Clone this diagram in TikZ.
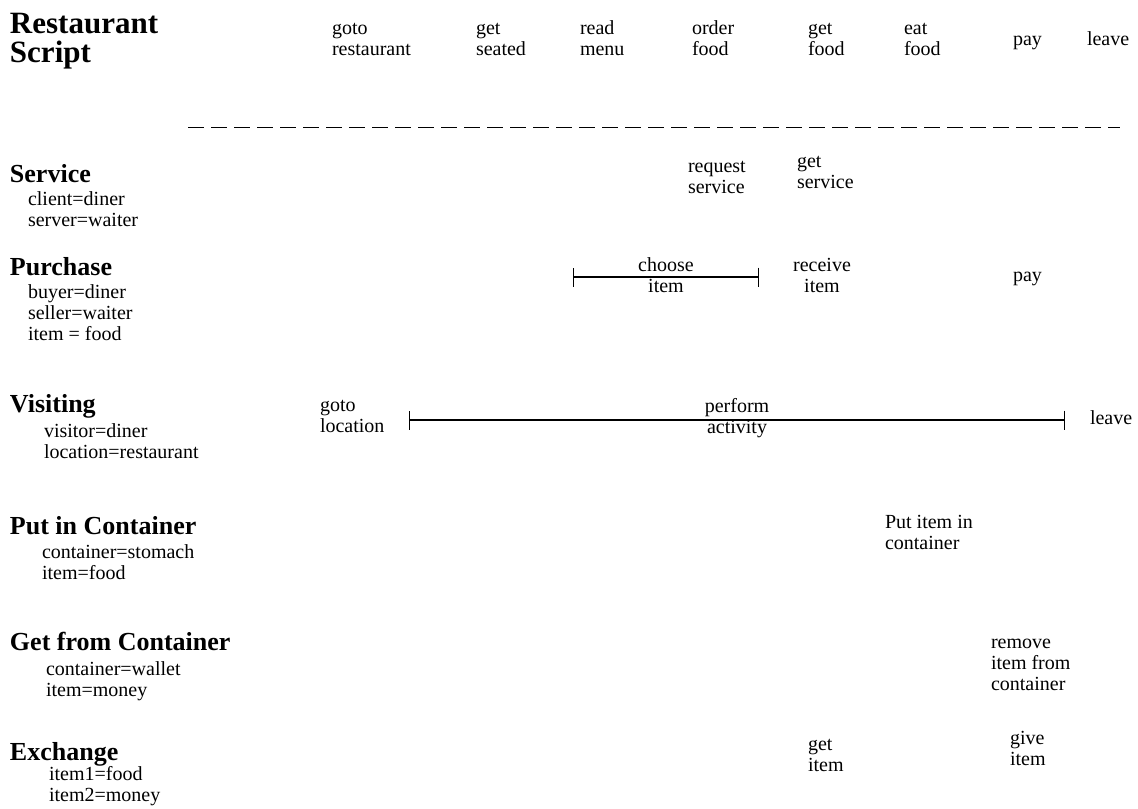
\documentclass[tikz,border=0pt]{standalone}
\usepackage{fontspec}
\setmainfont{Liberation Serif}
\usetikzlibrary{arrows.meta}

\begin{document}
\begin{tikzpicture}[x=0.5pt,y=-0.5pt,
        every node/.style={inner sep=0pt,outer sep=0pt},
        steplabel/.style={anchor=base west,align=left,font=\fontsize{10}{10.5}\selectfont},
        spanlabel/.style={anchor=center,align=center,font=\fontsize{10}{10.5}\selectfont},
        framehead/.style={anchor=base west,font=\fontsize{13}{14}\selectfont\bfseries},
        rolelist/.style={anchor=base west,align=left,font=\fontsize{10}{10.5}\selectfont},
        spanbar/.style={line width=0.65pt,{Bar[width=9.5pt,line width=0.65pt]}-{Bar[width=9.5pt,line width=0.65pt]}}]
        \useasboundingbox (0,0) rectangle (1138,808);

        % script title and its steps (base = last line)
        \node[anchor=base west,align=left,font=\fontsize{15.5}{14.2}\selectfont\bfseries] (title) at (10,62) {Restaurant\\Script};
        \node[steplabel] (s1) at (332,56) {goto\\restaurant};
        \node[steplabel] (s2) at (476,56) {get\\seated};
        \node[steplabel] (s3) at (580,56) {read\\menu};
        \node[steplabel] (s4) at (692,56) {order\\food};
        \node[steplabel] (s5) at (808,56) {get\\food};
        \node[steplabel] (s6) at (904,56) {eat\\food};
        \node[steplabel] (s7) at (1013,46) {pay};
        \node[steplabel] (s8) at (1087,46) {leave};
        \coordinate (sepL) at (188,127);
        \coordinate (sepR) at (1120,127);
        \draw [line width=0.5pt,dash pattern=on 8pt off 3.5pt] (sepL) -- (sepR);

        % Service
        \node[framehead] (service) at (10,182) {Service};
        \node[rolelist] (serviceroles) at (28,226) {client=diner\\server=waiter};
        \node[steplabel] (request) at (688,193) {request\\service};
        \node[steplabel] (getservice) at (797,188) {get\\service};

        % Purchase
        \node[framehead] (purchase) at (10,275) {Purchase};
        \node[rolelist] (purchaseroles) at (28,340) {buyer=diner\\seller=waiter\\item = food};
        \coordinate (chooseL) at (573,277);
        \coordinate (chooseR) at (759,277);
        \draw [spanbar] (chooseL) -- (chooseR) node[spanlabel,midway,yshift=1pt] (choose) {choose\\item};
        \node[spanlabel] (receive) at (822,275) {receive\\item};
        \node[steplabel] (pay) at (1013,281) {pay};

        % Visiting
        \node[framehead] (visiting) at (10,412) {Visiting};
        \node[rolelist] (visitingroles) at (44,458) {visitor=diner\\location=restaurant};
        \node[steplabel] (gotoloc) at (320,432) {goto\\location};
        \coordinate (performL) at (409,420);
        \coordinate (performR) at (1065,420);
        \draw [spanbar] (performL) -- (performR) node[spanlabel,midway,yshift=1pt] (perform) {perform\\activity};
        \node[steplabel] (leave) at (1090,424) {leave};

        % Put in Container
        \node[framehead] (putin) at (10,534) {Put in Container};
        \node[rolelist] (putinroles) at (42,579) {container=stomach\\item=food};
        \node[steplabel] (putitem) at (885,549) {Put item in\\container};

        % Get from Container
        \node[framehead] (getfrom) at (10,650) {Get from Container};
        \node[rolelist] (getfromroles) at (46,696) {container=wallet\\item=money};
        \node[steplabel] (remove) at (991,690) {remove\\item from\\container};

        % Exchange
        \node[framehead] (exchange) at (10,760) {Exchange};
        \node[rolelist] (exchangeroles) at (49,801) {item1=food\\item2=money};
        \node[steplabel] (getitem) at (808,771) {get\\item};
        \node[steplabel] (giveitem) at (1010,765) {give\\item};
    \end{tikzpicture}
\end{document}
